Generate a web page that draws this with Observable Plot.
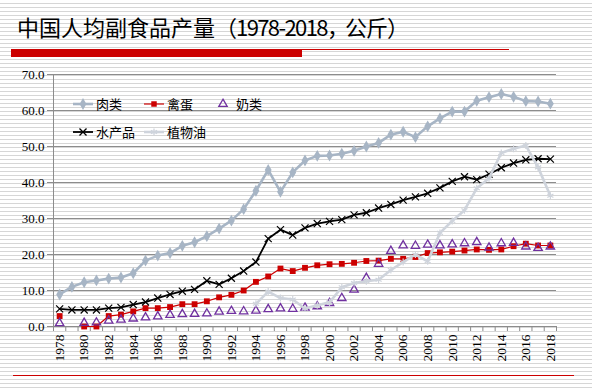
<!DOCTYPE html>
<html>
<head>
<meta charset="utf-8">
<script src="https://cdn.jsdelivr.net/npm/d3@7"></script>
<script src="https://cdn.jsdelivr.net/npm/@observablehq/plot@0.6"></script>
<style>
  html, body { margin: 0; padding: 0; }
  body { width: 592px; height: 390px; overflow: hidden;
    background: repeating-linear-gradient(to bottom, #ffffff 0px, #ffffff 3px, #d6d6d6 3px, #d6d6d6 4px); }
  #wrap { position: relative; width: 592px; height: 390px; }
  #title { position: absolute; left: 17px; top: 11px; font-family: "Noto Sans CJK SC", sans-serif;
    font-size: 22px; line-height: 30px; color: #000; white-space: nowrap; }
  #title .br1 { letter-spacing: -1px; }
  #title .num { letter-spacing: -1.6px; }
  #title .cm { letter-spacing: -4px; }
  #title .unit { letter-spacing: -1px; }
  .bar { position: absolute; background: #cc0000; }
  #chart { position: absolute; left: 0; top: 0; }
</style>
</head>
<body>
<div id="wrap">
  <div id="title">中国人均副食品产量<span class="br1">（</span><span class="num">1978-2018</span><span class="cm">，</span><span class="unit">公斤</span>）</div>
  <div class="bar" style="left:11px; top:49px; width:291px; height:8px;"></div>
  <div class="bar" style="left:302px; top:49px; width:207px; height:1px;"></div>
  <div class="bar" style="left:13px; top:375px; width:561px; height:1px;"></div>
  <div id="chart"></div>
</div>
<script>
const years = [1978,1979,1980,1981,1982,1983,1984,1985,1986,1987,
  1988,1989,1990,1991,1992,1993,1994,1995,1996,1997,
  1998,1999,2000,2001,2002,2003,2004,2005,2006,2007,
  2008,2009,2010,2011,2012,2013,2014,2015,2016,2017,2018];
const xTickLabels = [1978,1980,1982,1984,1986,1988,1990,1992,1994,1996,1998,2000,2002,2004,2006,2008,2010,2012,2014,2016,2018];
const yTicks = [0,10,20,30,40,50,60,70];

const meat = [8.9,11.0,12.3,12.8,13.3,13.6,14.8,18.3,19.7,20.4,
  22.4,23.4,25.1,27.2,29.4,32.6,37.7,43.5,37.4,42.8,
  46.1,47.4,47.5,48.0,48.8,50.0,51.0,53.3,54.1,52.6,
  55.6,57.8,59.7,59.7,62.7,63.7,64.6,63.8,62.6,62.5,61.9];
const egg = [2.9,null,0,0,2.9,3.3,4.2,5.1,5.1,5.4,
  6.2,6.2,7.0,8.1,8.8,10.0,12.4,13.9,16.1,15.4,
  16.3,17.0,17.3,17.4,17.7,18.2,18.3,18.8,18.8,19.3,
  20.4,20.6,20.8,21.1,21.4,21.3,21.4,22.3,23.0,22.5,22.5];
const milk = [0.9,null,1.0,1.1,1.6,1.9,2.2,2.5,2.8,3.2,
  3.4,3.5,3.6,4.1,4.3,4.2,4.4,4.8,5.0,4.9,
  5.2,5.6,6.5,7.9,10.2,13.5,17.4,21.0,22.5,22.4,
  22.7,22.5,22.8,23.1,23.4,21.9,23.1,23.2,22.2,21.8,22.2];
const aquatic = [4.9,4.6,4.6,4.6,5.1,5.3,6.1,6.8,7.9,8.9,
  9.8,10.3,12.7,11.7,13.4,15.4,17.9,24.4,26.9,25.4,
  27.4,28.6,29.2,29.7,31.0,31.6,32.9,33.9,35.1,36.0,
  37.0,38.5,40.3,41.6,40.8,42.3,44.1,45.4,46.3,46.6,46.5];
const oil = [null,null,null,null,null,null,null,null,null,null,
  null,null,null,null,null,null,6.3,9.7,7.9,7.5,
  5.0,5.9,6.7,10.9,12.1,12.6,13.0,15.7,17.9,20.0,
  18.1,26.0,29.3,32.3,38.4,41.2,48.2,49.4,50.3,44.2,36.3];

const seriesNames = ["肉类","禽蛋","奶类","水产品","植物油"];
const colors = {meat:"#a7b5c5", egg:"#cc0000", milk:"#7030a0", aquatic:"#000000", oil:"#cfd4dc"};
const gridColor = "#8c8c8c";

const data = years.map((yr, i) => ({year: yr, meat: meat[i], egg: egg[i], milk: milk[i], aquatic: aquatic[i], oil: oil[i]}));
const boundaries = years.map(y => y - 0.5).concat([years[years.length - 1] + 0.5]);

const serif = "'Liberation Serif', 'Times New Roman', serif";

const plot = Plot.plot({
  width: 592, height: 390,
  marginLeft: 53, marginRight: 36, marginTop: 74, marginBottom: 64,
  style: {background: "transparent", fontFamily: serif, fontSize: "13px", color: "#000", overflow: "visible"},
  x: {type: "linear", domain: [years[0] - 0.5, years[years.length - 1] + 0.5]},
  y: {domain: [0, 70]},
  marks: [
    Plot.ruleY(yTicks, {stroke: gridColor, strokeWidth: 1}),
    Plot.ruleX([years[0] - 0.5], {y1: 0, y2: 70, stroke: gridColor, strokeWidth: 1}),
    Plot.axisY({ticks: yTicks, tickFormat: d => d.toFixed(1), tickSize: 6, tickPadding: 3,
      stroke: gridColor, fill: "#000", fontFamily: serif, fontSize: 13, label: null}),
    Plot.axisX({ticks: boundaries, tickSize: 5, tickFormat: () => "", stroke: gridColor, label: null}),
    Plot.axisX({ticks: xTickLabels, tickSize: 0, tickPadding: 8, tickRotate: -90, tickFormat: d => String(d),
      fill: "#000", fontFamily: serif, fontSize: 13.5, label: null}),
    // 肉类
    Plot.line(data, {x: "year", y: "meat", stroke: colors.meat, strokeWidth: 2.6}),
    Plot.dot(data, {x: "year", y: "meat", symbol: "diamond", fill: colors.meat, r: 3.6}),
    // 禽蛋
    Plot.line(data, {x: "year", y: "egg", stroke: colors.egg, strokeWidth: 1.2}),
    Plot.dot(data, {x: "year", y: "egg", symbol: "square", fill: colors.egg, r: 3.3}),
    // 奶类
    Plot.dot(data, {x: "year", y: "milk", symbol: "triangle2", stroke: colors.milk, fill: "none", strokeWidth: 1.3, r: 4}),
    // 水产品
    Plot.line(data, {x: "year", y: "aquatic", stroke: colors.aquatic, strokeWidth: 1.8}),
    Plot.dot(data, {x: "year", y: "aquatic", symbol: "times", stroke: colors.aquatic, strokeWidth: 1.2, r: 3.3}),
    // 植物油
    Plot.line(data, {x: "year", y: "oil", stroke: colors.oil, strokeWidth: 2.6}),
    Plot.dot(data, {x: "year", y: "oil", symbol: "asterisk", stroke: colors.oil, strokeWidth: 1.2, r: 3.3})
  ]
});

// legend
const svg = d3.select(plot);
const lg = svg.append("g").attr("font-family", "'Noto Sans CJK SC', sans-serif").attr("font-size", 13)
  .attr("text-anchor", "start");
const items = [
  {name: seriesNames[0], key: "meat", x: 73, y: 104, line: 2.6, sym: d3.symbolDiamond, size: 40, fill: true},
  {name: seriesNames[1], key: "egg", x: 144, y: 104, line: 1.2, sym: d3.symbolSquare, size: 30, fill: true},
  {name: seriesNames[2], key: "milk", x: 213, y: 104, line: 0, sym: d3.symbolTriangle2, size: 50, fill: false},
  {name: seriesNames[3], key: "aquatic", x: 73, y: 132, line: 1.8, sym: d3.symbolTimes, size: 34, fill: false},
  {name: seriesNames[4], key: "oil", x: 144, y: 132, line: 2.6, sym: d3.symbolAsterisk, size: 34, fill: false}
];
for (const it of items) {
  const c = colors[it.key];
  if (it.line) lg.append("line").attr("x1", it.x).attr("x2", it.x + 20).attr("y1", it.y).attr("y2", it.y)
    .attr("stroke", c).attr("stroke-width", it.line);
  lg.append("path").attr("d", d3.symbol(it.sym, it.size)()).attr("transform", `translate(${it.x + 10},${it.y})`)
    .attr("fill", it.fill ? c : "none").attr("stroke", it.fill ? "none" : c).attr("stroke-width", 1.3);
  lg.append("text").attr("x", it.x + 23).attr("y", it.y).attr("dy", "0.36em").attr("fill", "#000")
    .attr("text-anchor", "start").text(it.name);
}

document.getElementById("chart").appendChild(plot);
</script>
</body>
</html>
